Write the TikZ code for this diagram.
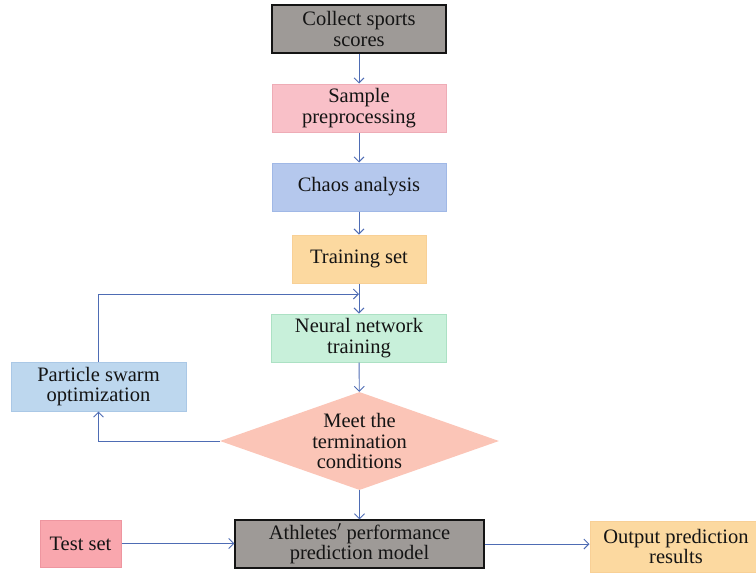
\documentclass[tikz,border=0pt]{standalone}
\usepackage{fontspec}
\setmainfont{Liberation Serif}
\usetikzlibrary{shapes.geometric,arrows.meta}
\definecolor{inkc}{RGB}{20,20,20}
\definecolor{linec}{RGB}{78,108,180}
\definecolor{grayf}{RGB}{158,154,151}
\definecolor{pinkf}{RGB}{249,192,200}
\definecolor{pinkd}{RGB}{238,172,182}
\definecolor{bluef}{RGB}{181,200,237}
\definecolor{blued}{RGB}{160,184,230}
\definecolor{orangef}{RGB}{252,217,160}
\definecolor{oranged}{RGB}{248,208,150}
\definecolor{greenf}{RGB}{200,240,218}
\definecolor{greend}{RGB}{172,225,196}
\definecolor{skyf}{RGB}{189,215,238}
\definecolor{skyd}{RGB}{170,200,230}
\definecolor{salmonf}{RGB}{251,197,183}
\definecolor{redf}{RGB}{249,167,174}
\definecolor{redd}{RGB}{238,150,160}
\tikzset{
  box/.style={rectangle, draw=#1, line width=1pt, inner sep=0pt, align=center,
    text=inkc, font=\fontsize{20.5}{20.5}\selectfont},
  arr/.style={draw=linec, line width=0.9pt, -{Straight Barb[length=5pt,width=10pt]}},
}
\begin{document}
\begin{tikzpicture}[x=1pt,y=-1pt]
\useasboundingbox (0,0) rectangle (756,573);
\node[box=inkc, fill=grayf, line width=1.4pt, minimum width=174, minimum height=48] (collect) at (359,29) {Collect sports\\scores};
\node[box=pinkd, fill=pinkf, minimum width=174, minimum height=48] (sample) at (359,108) {Sample\\preprocessing};
\node[box=blued, fill=bluef, minimum width=174, minimum height=48] (chaos) at (359,187) {Chaos analysis};
\node[box=oranged, fill=orangef, minimum width=134, minimum height=48] (train) at (359,259) {Training set};
\node[box=greend, fill=greenf, minimum width=175, minimum height=48] (nn) at (359,338) {Neural network\\training};
\node[box=skyd, fill=skyf, minimum width=175, minimum height=49] (pso) at (98.5,386.5) {Particle swarm\\optimization};
\node[diamond, fill=salmonf, inner sep=0pt, aspect=2.85, minimum width=279, minimum height=98,
  align=center, text=inkc, font=\fontsize{20.5}{20.5}\selectfont] (cond) at (359.5,441) {Meet the\\termination\\conditions};
\node[box=redd, fill=redf, minimum width=81, minimum height=47] (test) at (80.5,543.5) {Test set};
\node[box=inkc, fill=grayf, line width=1.4pt, minimum width=249, minimum height=48] (model) at (359.5,544) {Athletes$'$ performance\\prediction model};
\node[box=oranged, fill=orangef, minimum width=172, minimum height=51] (out) at (676,546.5) {Output prediction\\results};
\coordinate (join) at (359,294);

\draw[arr] (collect) -- (sample);
\draw[arr] (sample) -- (chaos);
\draw[arr] (chaos) -- (train);
\draw[arr] (train) -- (nn);
\draw[arr] (pso.north) |- (join);
\draw[arr] (nn) -- (cond);
\draw[arr] (cond.west) -| (pso.south);
\draw[arr] (cond) -- (model);
\draw[arr] (test.east) -- (test.east -| model.west);
\draw[arr] (model.east) -- (model.east -| out.west);
\end{tikzpicture}
\end{document}
